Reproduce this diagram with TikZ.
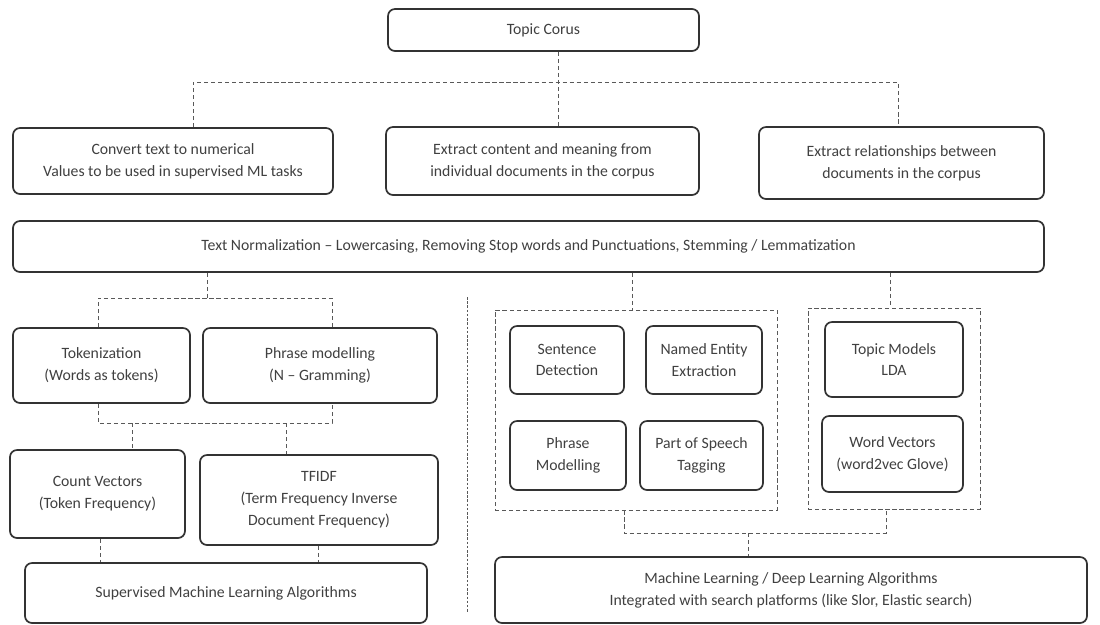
\documentclass[tikz,border=0pt]{standalone}
\usepackage{fontspec}
\setmainfont{Carlito}
\usetikzlibrary{positioning, fit, backgrounds}

\begin{document}
\begin{tikzpicture}[
  x=0.025cm, y=-0.025cm,
  box/.style={draw=black!80, line width=1.2pt, rounded corners=5pt, align=center, inner sep=0pt,
    text=black!75, font=\fontsize{11.2}{15.5}\selectfont},
  sz/.style 2 args={minimum width=#1*0.025cm, minimum height=#2*0.025cm},
  group/.style={draw=black!65, line width=0.6pt, dash pattern=on 3pt off 2pt, inner sep=0pt},
  link/.style={draw=black!65, line width=0.6pt, dash pattern=on 3pt off 2pt},
  divide/.style={draw=black!65, line width=0.6pt, dash pattern=on 1.8pt off 1.2pt}]
\useasboundingbox (0,0) rectangle (1100,625);

% top level
\node[box, sz={311}{42}] (corpus) at (543.5,30) {Topic Corus};
\node[box, sz={320}{66}] (conv) at (173,161) {Convert text to numerical\\Values to be used in supervised ML tasks};
\node[box, sz={313}{68}] (extr) at (542.5,161) {Extract content and meaning from\\individual documents in the corpus};
\node[box, sz={285}{72}] (rel) at (901.5,163) {Extract relationships between\\documents in the corpus};
\node[box, sz={1031}{51}] (norm) at (528.5,246.5) {Text Normalization -- Lowercasing, Removing Stop words and Punctuations, Stemming / Lemmatization};

% left branch
\node[box, sz={177}{75}] (tok) at (101.5,365.5) {Tokenization\\(Words as tokens)};
\node[box, sz={234}{75}] (phr) at (320,365.5) {Phrase modelling\\(N -- Gramming)};
\node[box, sz={175}{88}] (cnt) at (97.5,494) {Count Vectors\\(Token Frequency)};
\node[box, sz={238}{90}] (tfidf) at (319,500) {TFIDF\\(Term Frequency Inverse\\Document Frequency)};
\node[box, sz={402}{60}] (sup) at (226,593) {Supervised Machine Learning Algorithms};

% right branch
\node[group, sz={282}{200}] (grp1) at (636,410) {};
\node[group, sz={172}{201}] (grp2) at (894,408.5) {};
\node[box, sz={114}{68}] (sent) at (567,360) {Sentence\\Detection};
\node[box, sz={116}{68}] (ner) at (704,360) {Named Entity\\Extraction};
\node[box, sz={116}{69}] (phm) at (568,455.5) {Phrase\\Modelling};
\node[box, sz={123}{69}] (pos) at (701.5,455.5) {Part of Speech\\Tagging};
\node[box, sz={138}{75}] (lda) at (894,359.5) {Topic Models\\LDA};
\node[box, sz={141}{76}] (wv) at (892.5,454) {Word Vectors\\(word2vec Glove)};
\node[box, sz={592}{66}] (ml) at (791,590) {Machine Learning / Deep Learning Algorithms\\Integrated with search platforms (like Slor, Elastic search)};

% bus points
\coordinate (b1l) at (193,82);
\coordinate (b1m) at (558,82);
\coordinate (b1r) at (898,82);
\coordinate (b2m) at (207,298);
\coordinate (b2l) at (98,298);
\coordinate (b2r) at (332,298);
\coordinate (b3l) at (98,423);
\coordinate (b3r) at (332,423);
\coordinate (d3l) at (132,423);
\coordinate (d3r) at (286,423);
\coordinate (d4l) at (100,0);
\coordinate (d4r) at (318,0);
\coordinate (g1) at (632,0);
\coordinate (g2) at (890,0);
\coordinate (b5l) at (624,533);
\coordinate (b5r) at (886,533);
\coordinate (b5m) at (748,533);
\coordinate (dvt) at (467,297);
\coordinate (dvb) at (467,613);

\draw[link] (b1m |- corpus.south) -- (b1m |- extr.north);
\draw[link] (b1l |- conv.north) -- (b1l) -- (b1r) -- (b1r |- rel.north);
\draw[link] (b2m |- norm.south) -- (b2m);
\draw[link] (b2l |- tok.north) -- (b2l) -- (b2r) -- (b2r |- phr.north);
\draw[link] (b3l |- tok.south) -- (b3l) -- (b3r) -- (b3r |- phr.south);
\draw[link] (d3l) -- (d3l |- cnt.north);
\draw[link] (d3r) -- (d3r |- tfidf.north);
\draw[link] (d4l |- cnt.south) -- (d4l |- sup.north);
\draw[link] (d4r |- tfidf.south) -- (d4r |- sup.north);
\draw[link] (g1 |- norm.south) -- (g1 |- grp1.north);
\draw[link] (g2 |- norm.south) -- (g2 |- grp2.north);
\draw[link] (b5l |- grp1.south) -- (b5l) -- (b5r) -- (b5r |- grp2.south);
\draw[link] (b5m) -- (b5m |- ml.north);
\draw[divide] (dvt) -- (dvb);
\end{tikzpicture}
\end{document}
